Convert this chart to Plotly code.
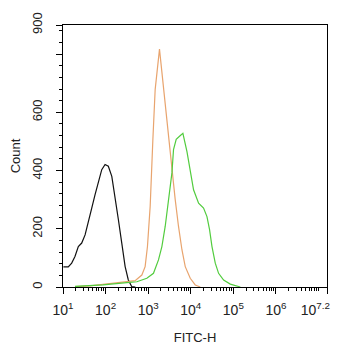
import plotly.graph_objects as go

# FITC-H intensity (linear units) and event counts for each histogram
black_x = [10.2, 13.3, 16.0, 19.1, 22.9, 27.5, 33.0, 39.4, 47.3, 56.6, 67.6, 81.3, 97.3,
           116, 140, 167, 200, 240, 288, 342, 413, 500]
black_y = [69, 69, 82, 105, 139, 151, 179, 220, 271, 317, 363, 403, 421,
           415, 380, 311, 231, 151, 70, 24, 1, 0]

orange_x = [19.1, 43.2, 97.3, 167, 288, 494, 711, 849, 963, 1115, 1290, 1462, 1845,
            2100, 2420, 2754, 3170, 3610, 4320, 5160, 6210, 7430, 9730, 12770, 16740]
orange_y = [1, 4, 10, 14, 17, 22, 41, 70, 139, 277, 507, 679, 817,
            737, 645, 576, 484, 392, 300, 208, 128, 70, 30, 7, 0]

green_x = [19.1, 87.3, 316, 542, 931, 1333, 1747, 2100, 2512, 3006, 3614, 3939, 4558,
           5448, 6545, 8150, 9730, 11640, 15280, 20000, 24040, 27670, 31550, 37670,
           45080, 59130, 84920, 111400, 146200]
green_y = [2, 7, 15, 18, 30, 47, 93, 139, 208, 300, 392, 472, 507,
           518, 528, 465, 405, 334, 288, 271, 242, 197, 139, 82,
           47, 24, 10, 4, 0]

x_tickvals = [1e1, 1e2, 1e3, 1e4, 1e5, 1e6, 10 ** 7.19999]
x_ticktext = ["10<sup>1</sup>", "10<sup>2</sup>", "10<sup>3</sup>", "10<sup>4</sup>",
              "10<sup>5</sup>", "10<sup>6</sup>",
              "10<sup>7.2</sup>" + "&nbsp;" * 6]
y_tickvals = [0, 200, 400, 600, 800, 900]
y_ticktext = ["0", "200", "400", "600", "", "900"]

fig = go.Figure()
fig.add_trace(go.Scatter(x=black_x, y=black_y, mode="lines",
                         line=dict(color="#111111", width=1.2), showlegend=False))
fig.add_trace(go.Scatter(x=orange_x, y=orange_y, mode="lines",
                         line=dict(color="#e8a46e", width=1.2), showlegend=False))
fig.add_trace(go.Scatter(x=green_x, y=green_y, mode="lines",
                         line=dict(color="#52cc3e", width=1.2), showlegend=False))

font = "Liberation Sans, Arial, sans-serif"
# page body has an 8px default margin; figure is sized to fit the window
fig.update_layout(
    width=334, height=342,
    margin=dict(l=55, r=15, t=17, b=63, autoexpand=False),
    paper_bgcolor="white", plot_bgcolor="white",
    font=dict(family=font, color="#222222", size=13),
)
fig.update_xaxes(
    type="log", range=[1, 7.2], automargin=False,
    tickmode="array", tickvals=x_tickvals, ticktext=x_ticktext,
    ticklabeloverflow="allow", ticklabelstandoff=4,
    ticks="outside", ticklen=6, tickwidth=1, tickcolor="black",
    showline=True, linecolor="black", linewidth=1.2, mirror=True,
    showgrid=False, zeroline=False,
    tickfont=dict(size=14),
    minor=dict(dtick="D1", ticks="outside", ticklen=3, tickcolor="black", showgrid=False),
    title=dict(text="FITC-H", font=dict(size=13), standoff=15),
)
fig.update_yaxes(
    range=[0, 900], automargin=False,
    tickmode="array", tickvals=y_tickvals, ticktext=y_ticktext,
    ticklabeloverflow="allow",
    tickangle=-90, ticklabelstandoff=9,
    ticks="outside", ticklen=6, tickwidth=1, tickcolor="black",
    showline=True, linecolor="black", linewidth=1.2, mirror=True,
    showgrid=False, zeroline=False,
    tickfont=dict(size=13),
    minor=dict(tick0=0, dtick=40, ticks="outside", ticklen=3, tickcolor="black", showgrid=False),
    title=dict(text="Count", font=dict(size=13), standoff=13),
)

fig.write_html("out.html")
